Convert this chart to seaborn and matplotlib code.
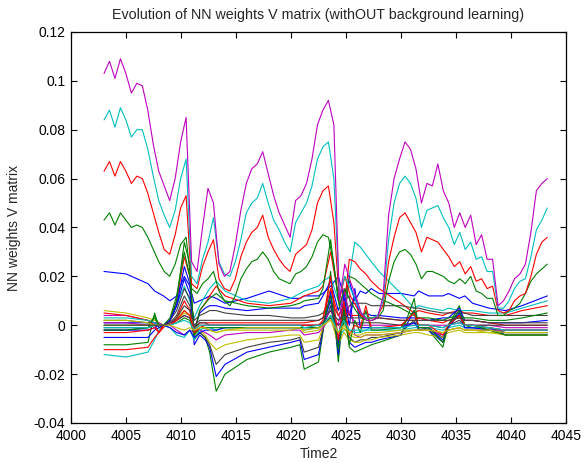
import numpy as np
import pandas as pd
import matplotlib
matplotlib.use("Agg")
import matplotlib.pyplot as plt
import seaborn as sns

sns.set_style("ticks")
plt.rcParams["font.family"] = ["Liberation Sans", "DejaVu Sans"]

# ---- dominant weight trajectories (dense sampling) ----
t_main = np.linspace(4003.0, 4043.3, 82)

v_magenta = [0.103, 0.108, 0.101, 0.109, 0.103, 0.095, 0.099, 0.098, 0.088, 0.074,
             0.063, 0.057, 0.051, 0.060, 0.075, 0.085, 0.026, 0.022, 0.040, 0.056,
             0.050, 0.025, 0.020, 0.022, 0.033, 0.047, 0.058, 0.064, 0.066, 0.071,
             0.062, 0.053, 0.046, 0.041, 0.036, 0.051, 0.053, 0.058, 0.068, 0.082,
             0.088, 0.092, 0.082, 0.010, 0.025, 0.018, 0.012, 0.005, 0.002, 0.002,
             0.003, 0.012, 0.045, 0.060, 0.068, 0.075, 0.072, 0.064, 0.050, 0.058,
             0.057, 0.066, 0.055, 0.050, 0.040, 0.046, 0.040, 0.045, 0.033, 0.037,
             0.027, 0.027, 0.008, 0.010, 0.014, 0.019, 0.021, 0.025, 0.038, 0.055,
             0.058, 0.060]

v_cyan = [0.084, 0.088, 0.081, 0.089, 0.084, 0.077, 0.080, 0.080, 0.072, 0.061,
          0.051, 0.045, 0.040, 0.047, 0.060, 0.068, 0.020, 0.017, 0.027, 0.034,
          0.044, 0.026, 0.021, 0.020, 0.026, 0.035, 0.046, 0.050, 0.052, 0.058,
          0.050, 0.043, 0.039, 0.034, 0.030, 0.042, 0.046, 0.050, 0.057, 0.068,
          0.073, 0.075, 0.060, 0.012, 0.020, 0.015, 0.010, 0.005, 0.003, 0.003,
          0.004, 0.010, 0.035, 0.050, 0.058, 0.061, 0.058, 0.052, 0.040, 0.047,
          0.048, 0.049, 0.044, 0.040, 0.033, 0.038, 0.031, 0.034, 0.027, 0.028,
          0.022, 0.022, 0.007, 0.007, 0.010, 0.015, 0.018, 0.019, 0.028, 0.039,
          0.043, 0.048]

v_red = [0.063, 0.067, 0.061, 0.067, 0.063, 0.058, 0.061, 0.060, 0.054, 0.046,
         0.038, 0.031, 0.029, 0.037, 0.048, 0.053, 0.017, 0.015, 0.024, 0.030,
         0.035, 0.019, 0.015, 0.014, 0.019, 0.028, 0.034, 0.038, 0.040, 0.045,
         0.036, 0.031, 0.027, 0.024, 0.022, 0.029, 0.031, 0.033, 0.039, 0.050,
         0.055, 0.057, 0.042, 0.010, 0.020, 0.012, 0.008, 0.004, 0.003, 0.003,
         0.004, 0.008, 0.026, 0.036, 0.044, 0.046, 0.042, 0.038, 0.030, 0.036,
         0.035, 0.034, 0.031, 0.028, 0.024, 0.026, 0.021, 0.024, 0.018, 0.019,
         0.015, 0.016, 0.006, 0.005, 0.006, 0.010, 0.012, 0.013, 0.020, 0.029,
         0.034, 0.036]

v_green = [0.043, 0.046, 0.041, 0.046, 0.043, 0.040, 0.041, 0.040, 0.036, 0.031,
           0.026, 0.022, 0.020, 0.025, 0.033, 0.036, 0.015, 0.013, 0.017, 0.019,
           0.022, 0.014, 0.010, 0.008, 0.012, 0.019, 0.023, 0.026, 0.027, 0.030,
           0.027, 0.022, 0.019, 0.018, 0.017, 0.021, 0.022, 0.024, 0.028, 0.034,
           0.037, 0.036, 0.025, 0.008, 0.015, 0.010, 0.006, 0.003, 0.002, 0.002,
           0.003, 0.006, 0.018, 0.026, 0.030, 0.031, 0.029, 0.025, 0.019, 0.022,
           0.022, 0.021, 0.020, 0.018, 0.017, 0.019, 0.017, 0.020, 0.014, 0.013,
           0.011, 0.011, 0.004, 0.004, 0.006, 0.007, 0.009, 0.013, 0.018, 0.021,
           0.023, 0.025]

# ---- smaller weights (sampled at event times) ----
t_minor = [4003, 4005, 4007, 4007.6, 4008, 4008.4, 4009, 4009.6, 4010.3, 4010.8,
           4011.2, 4011.7, 4012.2, 4012.6, 4013.2, 4014, 4016, 4018, 4020, 4020.8,
           4021.2, 4022.5, 4022.9, 4023.6, 4024.3, 4024.8, 4025.3, 4025.8, 4026.3, 4026.8,
           4027.3, 4028, 4030, 4031.2, 4031.6, 4032.5, 4033.8, 4034.3, 4035.3, 4035.8,
           4036.5, 4038, 4039.5, 4041, 4043.3]

v_blue_a = [0.022, 0.021, 0.017, 0.014, 0.013, 0.012, 0.010, 0.012, 0.020, 0.016,
            0.009, 0.010, 0.011, 0.012, 0.011, 0.009, 0.011, 0.014, 0.011, 0.011,
            0.012, 0.012, 0.013, 0.016, 0.020, 0.012, 0.018, 0.010, 0.014, 0.013,
            0.015, 0.013, 0.013, 0.012, 0.014, 0.012, 0.012, 0.013, 0.011, 0.012,
            0.009, 0.007, 0.006, 0.008, 0.012]
v_cyan_b = [-0.012, -0.013, -0.011, -0.006, -0.002, 0.000, 0.002, 0.008, 0.016, 0.010,
            0.003, 0.008, 0.012, 0.015, 0.018, 0.014, 0.010, 0.009, 0.011, 0.013,
            0.014, 0.016, 0.018, 0.020, 0.010, 0.006, 0.020, 0.034, 0.032, 0.029,
            0.026, 0.022, 0.013, 0.007, 0.008, 0.007, 0.006, 0.007, 0.006, 0.006,
            0.006, 0.005, 0.005, 0.007, 0.010]
v_red_b = [-0.010, -0.010, -0.009, -0.005, -0.003, -0.001, 0.002, 0.010, 0.028, 0.020,
           -0.003, 0.006, 0.009, 0.012, 0.016, 0.012, 0.009, 0.008, 0.009, 0.011,
           0.012, 0.014, 0.016, 0.030, 0.012, 0.006, 0.027, 0.026, 0.023, 0.021,
           0.018, 0.015, 0.009, 0.005, 0.006, 0.005, 0.004, 0.005, 0.006, 0.005,
           0.005, 0.004, 0.004, 0.006, 0.008]
v_green_b = [-0.008, -0.008, -0.007, 0.005, -0.001, 0.000, 0.002, 0.010, 0.034, 0.025,
             -0.006, -0.003, -0.005, -0.011, -0.027, -0.020, -0.014, -0.011, -0.009, -0.008,
             -0.018, -0.015, -0.003, 0.022, -0.015, 0.008, -0.009, -0.011, -0.010, -0.009,
             -0.008, -0.007, -0.004, 0.011, -0.002, -0.002, -0.009, 0.000, 0.008, 0.000,
             -0.001, -0.001, -0.004, -0.004, -0.004]
v_blue_b = [-0.005, -0.005, -0.005, -0.002, -0.001, 0.000, 0.002, 0.008, 0.024, 0.017,
            -0.008, -0.004, -0.006, -0.009, -0.021, -0.016, -0.011, -0.009, -0.007, -0.006,
            -0.014, -0.012, -0.002, 0.014, -0.012, 0.006, -0.007, -0.009, -0.008, -0.007,
            -0.007, -0.006, -0.004, 0.006, -0.002, -0.002, -0.007, 0.000, 0.006, -0.001,
            -0.001, -0.001, -0.004, -0.004, -0.004]
v_black_b = [0.002, 0.002, 0.001, 0.001, 0.000, 0.000, 0.001, 0.004, 0.012, 0.008,
             -0.005, -0.003, -0.005, -0.008, -0.016, -0.012, -0.009, -0.007, -0.006, -0.005,
             -0.011, -0.009, -0.002, 0.008, -0.009, 0.003, -0.005, -0.007, -0.006, -0.006,
             -0.005, -0.005, -0.003, 0.002, -0.002, -0.001, -0.005, 0.000, 0.004, -0.001,
             -0.001, -0.001, -0.003, -0.003, -0.003]
v_yellow_b = [0.006, 0.005, 0.003, 0.002, 0.001, 0.000, 0.001, 0.003, 0.006, 0.004,
              -0.004, -0.002, -0.004, -0.007, -0.010, -0.008, -0.006, -0.005, -0.004, -0.004,
              -0.007, -0.006, -0.001, 0.003, -0.008, -0.003, -0.006, -0.007, -0.007, -0.006,
              -0.006, -0.005, -0.004, -0.003, -0.003, -0.004, -0.005, -0.003, -0.002, -0.003,
              -0.003, -0.003, -0.003, -0.003, -0.003]
v_magenta_b = [0.004, 0.004, 0.002, 0.001, 0.001, 0.000, 0.000, -0.002, -0.004, -0.002,
               -0.003, -0.002, -0.003, -0.004, -0.006, -0.004, -0.003, -0.003, -0.002, -0.002,
               -0.004, -0.003, -0.001, 0.004, -0.006, 0.010, 0.012, -0.004, -0.005, -0.004,
               -0.004, -0.004, -0.003, -0.002, -0.002, -0.002, -0.004, -0.002, -0.001, -0.002,
               -0.002, -0.002, -0.002, -0.002, -0.002]
v_black_c = [-0.002, -0.002, -0.001, 0.000, 0.000, 0.000, 0.002, 0.006, 0.015, 0.011,
             0.002, 0.004, 0.005, 0.006, 0.006, 0.005, 0.004, 0.004, 0.003, 0.003,
             0.003, 0.004, 0.005, 0.010, 0.004, 0.002, 0.008, 0.009, 0.009, 0.009,
             0.008, 0.008, 0.008, 0.007, 0.007, 0.006, 0.005, 0.005, 0.005, 0.005,
             0.004, 0.004, 0.004, 0.004, 0.004]
v_blue_c = [0.001, 0.001, 0.001, 0.001, 0.000, 0.000, 0.002, 0.008, 0.019, 0.013,
            -0.002, 0.005, 0.007, 0.008, 0.008, 0.007, 0.006, 0.007, 0.007, 0.007,
            0.008, 0.009, 0.012, 0.018, 0.006, 0.014, 0.004, 0.012, 0.004, 0.005,
            0.004, 0.004, 0.003, 0.003, 0.003, 0.002, 0.003, 0.003, 0.007, 0.002,
            0.002, 0.001, 0.001, 0.001, 0.002]
v_green_c = [0.000, 0.000, 0.000, 0.003, 0.000, 0.000, 0.003, 0.012, 0.030, 0.020,
             -0.004, 0.006, 0.009, 0.011, 0.013, 0.010, 0.008, 0.007, 0.008, 0.009,
             0.010, 0.011, 0.015, 0.035, 0.010, 0.000, 0.020, 0.019, 0.017, 0.015,
             0.013, 0.011, 0.007, 0.004, 0.003, 0.003, 0.002, 0.003, 0.004, 0.003,
             0.003, 0.002, 0.002, 0.003, 0.005]
v_red_c = [0.005, 0.004, 0.002, 0.000, -0.003, 0.000, 0.000, 0.003, 0.010, 0.006,
           -0.002, 0.001, 0.001, 0.001, 0.001, 0.001, 0.001, 0.001, 0.001, 0.001,
           0.001, 0.002, 0.003, 0.015, 0.004, 0.008, 0.004, 0.004, 0.004, 0.003,
           0.003, 0.003, 0.002, 0.002, 0.003, 0.002, 0.001, 0.002, 0.003, 0.002,
           0.002, 0.001, 0.000, 0.000, 0.000]
v_cyan_c = [0.003, 0.003, 0.002, 0.001, 0.000, 0.000, -0.001, -0.004, -0.005, -0.002,
            -0.006, -0.002, -0.001, -0.001, -0.002, -0.001, -0.001, -0.001, -0.001, -0.001,
            -0.002, -0.001, 0.000, 0.004, -0.005, -0.002, -0.002, -0.003, -0.003, -0.002,
            -0.002, -0.002, -0.002, -0.001, -0.001, -0.001, -0.002, -0.001, 0.000, -0.001,
            -0.001, -0.001, -0.002, -0.002, -0.002]
v_magenta_c = [0.001, 0.001, 0.000, 0.000, 0.000, 0.000, 0.001, 0.002, 0.004, 0.003,
               -0.002, 0.000, 0.000, 0.000, 0.000, 0.000, 0.000, 0.000, 0.000, 0.000,
               0.000, 0.000, 0.001, 0.006, 0.000, 0.015, 0.005, 0.001, 0.000, 0.000,
               0.000, 0.000, 0.000, 0.000, 0.000, 0.000, 0.000, 0.000, 0.001, 0.000,
               0.000, 0.000, -0.001, -0.001, -0.001]
v_yellow_c = [0.000, 0.000, 0.000, 0.000, 0.000, 0.000, 0.000, 0.002, 0.005, 0.004,
              -0.001, 0.000, -0.001, -0.002, -0.003, -0.002, -0.002, -0.002, -0.002, -0.001,
              -0.003, -0.002, 0.000, 0.004, -0.004, -0.001, -0.004, -0.005, -0.005, -0.004,
              -0.004, -0.004, -0.003, -0.002, -0.002, -0.002, -0.003, -0.002, -0.001, -0.002,
              -0.002, -0.003, -0.004, -0.004, -0.004]
v_black_d = [-0.001, -0.001, -0.001, 0.000, 0.000, 0.000, 0.000, 0.002, 0.004, 0.003,
             -0.001, 0.001, 0.001, 0.000, 0.000, 0.000, 0.000, 0.000, 0.000, 0.000,
             0.000, 0.000, 0.001, 0.003, 0.000, 0.002, 0.001, 0.001, 0.001, 0.001,
             0.001, 0.001, 0.000, 0.001, 0.000, 0.000, -0.001, 0.000, 0.002, 0.000,
             0.000, 0.000, 0.000, 0.000, 0.000]
v_blue_d = [-0.002, -0.002, -0.002, -0.001, 0.000, 0.000, -0.001, -0.003, -0.004, -0.002,
            -0.005, -0.003, -0.002, -0.002, -0.002, -0.001, -0.001, -0.001, -0.001, -0.001,
            -0.001, -0.001, 0.000, 0.010, -0.008, 0.012, 0.000, 0.015, -0.001, -0.001,
            -0.001, -0.001, -0.001, 0.001, -0.001, -0.001, -0.006, -0.001, 0.005, -0.001,
            -0.001, -0.002, -0.003, -0.003, -0.003]
v_green_d = [-0.002, -0.002, -0.001, 0.004, 0.000, 0.000, 0.000, 0.001, 0.003, 0.002,
             -0.004, -0.001, -0.001, -0.001, -0.001, -0.001, -0.001, -0.001, -0.001, -0.001,
             -0.001, -0.001, 0.000, 0.012, -0.010, 0.006, -0.008, 0.002, -0.003, 0.006,
             -0.002, -0.002, -0.001, 0.006, -0.001, -0.001, -0.007, 0.000, 0.006, 0.000,
             0.000, -0.002, -0.004, -0.004, -0.004]
v_red_d = [-0.003, -0.003, -0.002, -0.001, -0.003, 0.000, 0.000, 0.002, 0.006, 0.004,
           -0.003, -0.001, 0.000, 0.000, 0.000, 0.000, 0.000, 0.000, 0.000, 0.000,
           0.000, 0.000, 0.002, 0.020, -0.006, 0.010, -0.004, 0.000, -0.001, 0.008,
           -0.001, -0.001, 0.000, 0.005, 0.000, 0.000, -0.004, 0.000, 0.004, 0.000,
           0.000, -0.001, -0.002, -0.002, -0.002]
v_cyan_d = [-0.001, -0.001, -0.001, 0.000, 0.000, 0.000, 0.000, 0.001, 0.002, 0.001,
            -0.002, 0.000, 0.000, 0.000, 0.000, 0.000, 0.000, 0.000, 0.000, 0.000,
            -0.001, 0.000, 0.000, 0.004, -0.003, 0.002, -0.002, -0.002, -0.002, -0.002,
            -0.001, -0.001, -0.001, 0.000, 0.000, 0.000, -0.001, 0.000, 0.001, 0.000,
            0.000, -0.001, -0.002, -0.002, -0.002]
v_yellow_d = [0.002, 0.002, 0.001, 0.000, 0.000, 0.000, 0.000, -0.001, -0.002, -0.001,
              -0.002, -0.001, -0.001, -0.002, -0.003, -0.002, -0.001, -0.001, -0.001, -0.001,
              -0.002, -0.001, 0.000, 0.002, -0.003, 0.000, -0.003, -0.004, -0.004, -0.003,
              -0.003, -0.003, -0.002, -0.002, -0.002, -0.002, -0.003, -0.002, -0.001, -0.002,
              -0.002, -0.002, -0.003, -0.003, -0.003]
v_black_e = [0.000, 0.000, 0.000, 0.000, 0.000, 0.000, 0.001, 0.003, 0.008, 0.006,
             0.000, 0.002, 0.002, 0.002, 0.002, 0.002, 0.002, 0.002, 0.002, 0.002,
             0.002, 0.002, 0.003, 0.006, 0.002, 0.004, 0.003, 0.003, 0.003, 0.003,
             0.003, 0.003, 0.002, 0.002, 0.002, 0.002, 0.002, 0.002, 0.003, 0.002,
             0.002, 0.001, 0.001, 0.001, 0.001]

# classic colour order
C = {"b": (0, 0, 1), "g": (0, 0.5, 0), "r": (1, 0, 0), "c": (0, 0.75, 0.75),
     "m": (0.75, 0, 0.75), "y": (0.75, 0.75, 0), "k": (0.25, 0.25, 0.25)}

minor = [("b", v_blue_a), ("c", v_cyan_b), ("r", v_red_b), ("g", v_green_b),
         ("b", v_blue_b), ("k", v_black_b), ("y", v_yellow_b), ("m", v_magenta_b),
         ("k", v_black_c), ("b", v_blue_c), ("g", v_green_c), ("r", v_red_c),
         ("c", v_cyan_c), ("m", v_magenta_c), ("y", v_yellow_c), ("k", v_black_d),
         ("b", v_blue_d), ("g", v_green_d), ("r", v_red_d), ("c", v_cyan_d),
         ("y", v_yellow_d), ("k", v_black_e)]
major = [("g", v_green), ("r", v_red), ("c", v_cyan), ("m", v_magenta)]

fig = plt.figure(figsize=(5.84, 4.63), dpi=100)
ax = fig.add_axes([0.1216, 0.0864, 0.8476, 0.8446])

for key, vals in minor:
    sns.lineplot(x=t_minor, y=vals, color=C[key], lw=0.8, ax=ax,
                 estimator=None, sort=False, legend=False)
for key, vals in major:
    sns.lineplot(x=t_main, y=vals, color=C[key], lw=0.8, ax=ax,
                 estimator=None, sort=False, legend=False)

ax.set_xlim(4000, 4045)
ax.set_ylim(-0.04, 0.12)
ax.set_xticks(np.arange(4000, 4046, 5))
ax.set_yticks([-0.04, -0.02, 0, 0.02, 0.04, 0.06, 0.08, 0.1, 0.12])
ax.set_yticklabels(["-0.04", "-0.02", "0", "0.02", "0.04", "0.06", "0.08", "0.1", "0.12"])
ax.tick_params(direction="in", length=4, width=0.8, top=True, right=True,
               labelsize=10, colors="black", pad=4)
for s in ax.spines.values():
    s.set_visible(True)
    s.set_linewidth(0.9)
    s.set_color("black")

ax.set_title("Evolution of NN weights V matrix (withOUT background learning)",
             fontsize=10.3, pad=9)
ax.set_xlabel("Time2", fontsize=10, labelpad=3)
ax.set_ylabel("NN weights V matrix", fontsize=10, labelpad=9)

fig.savefig("out.png", dpi=100)
